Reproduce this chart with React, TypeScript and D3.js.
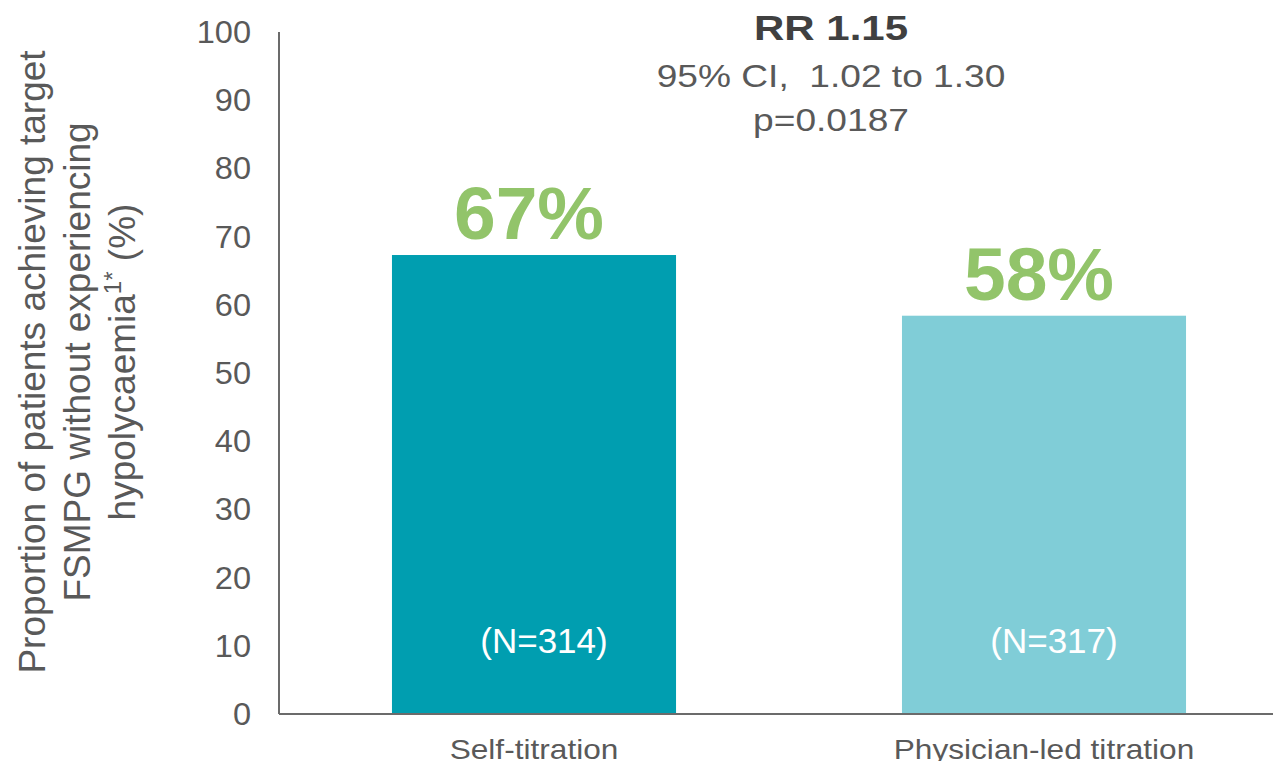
import React from "react";
import * as d3 from "d3";

const categories = ["Self-titration", "Physician-led titration"];
const values = [67.3, 58.4];
const valueLabels = ["67%", "58%"];
const nLabels = ["(N=314)", "(N=317)"];
const barColors = ["#009EB0", "#80CDD7"];
const yTicks = [0, 10, 20, 30, 40, 50, 60, 70, 80, 90, 100];
const statLines = ["RR 1.15", "95% CI,  1.02 to 1.30", "p=0.0187"];

const W = 1281;
const H = 769;
const FONT = "'Liberation Sans', Arial, sans-serif";
const GRAY = "#595959";
const GREEN = "#92C46A";

export default function App() {
  const x0 = 279;
  const y = d3.scaleLinear().domain([0, 100]).range([714, 32]);
  const x = d3.scaleBand<string>().domain(categories).range([x0, 1299]).paddingInner(0.443).paddingOuter(0.2215);
  const bw = x.bandwidth();

  return (
    <div style={{ margin: -8 }}>
      <svg width={W} height={H} style={{ display: "block", background: "#fff" }}>
        {categories.map((c, i) => (
          <rect key={c} x={x(c)} y={y(values[i])} width={bw} height={y(0) - y(values[i])} fill={barColors[i]} />
        ))}
        <line x1={x0} x2={x0} y1={y(100)} y2={y(0)} stroke="#6b6b6b" strokeWidth={2} />
        <line x1={x0} x2={W} y1={y(0)} y2={y(0)} stroke="#6b6b6b" strokeWidth={2} />
        {yTicks.map((t) => (
          <g key={t} transform={`translate(251,${y(t) + 11}) scale(1.05,1)`}>
            <text textAnchor="end" fontFamily={FONT} fontSize={31} fill={GRAY}>{t}</text>
          </g>
        ))}
        {categories.map((c) => (
          <g key={c} transform={`translate(${(x(c) as number) + bw / 2},759) scale(1.13,1)`}>
            <text textAnchor="middle" fontFamily={FONT} fontSize={28} fill={GRAY}>{c}</text>
          </g>
        ))}
        {categories.map((c, i) => (
          <text key={c} x={(x(c) as number) + bw / 2 - 5} y={y(values[i]) - 16} textAnchor="middle"
            fontFamily={FONT} fontSize={75} fontWeight="bold" fill={GREEN}>{valueLabels[i]}</text>
        ))}
        {categories.map((c, i) => (
          <text key={c} x={(x(c) as number) + bw / 2 + 10} y={653} textAnchor="middle"
            fontFamily={FONT} fontSize={35} fill="#ffffff">{nLabels[i]}</text>
        ))}
        <g transform="translate(831,40) scale(1.2,1)">
          <text textAnchor="middle" fontFamily={FONT} fontSize={35} fontWeight="bold" fill="#404040">{statLines[0]}</text>
        </g>
        <g transform="translate(831,87) scale(1.16,1)">
          <text textAnchor="middle" fontFamily={FONT} fontSize={32} fill={GRAY} style={{ whiteSpace: "pre" }}>{statLines[1]}</text>
        </g>
        <g transform="translate(831,131) scale(1.16,1)">
          <text textAnchor="middle" fontFamily={FONT} fontSize={32} fill={GRAY}>{statLines[2]}</text>
        </g>
        <g transform="translate(0,362) rotate(-90)">
          <text x={0} y={45} textAnchor="middle" fontFamily={FONT} fontSize={37} fill={GRAY}>Proportion of patients achieving target</text>
          <text x={0} y={90} textAnchor="middle" fontFamily={FONT} fontSize={37} fill={GRAY}>FSMPG without experiencing</text>
          <text x={0} y={135} textAnchor="middle" fontFamily={FONT} fontSize={37} fill={GRAY}>
            hypolycaemia<tspan fontSize={24} dy={-14}>1*</tspan><tspan dy={14}> (%)</tspan>
          </text>
        </g>
      </svg>
    </div>
  );
}
